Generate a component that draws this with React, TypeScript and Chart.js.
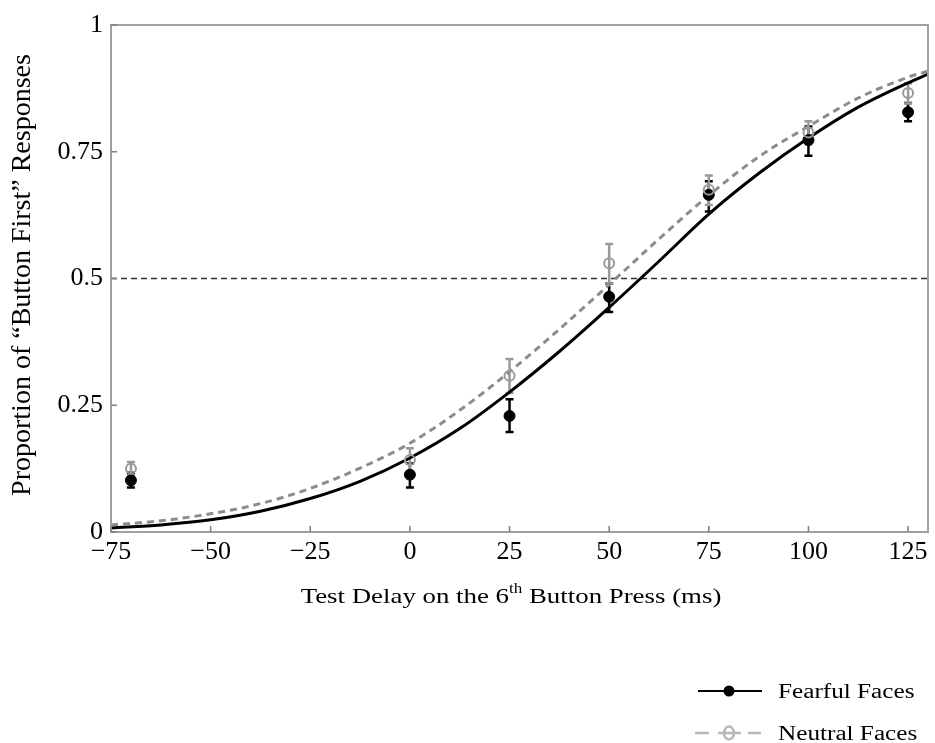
import React, { useEffect, useRef } from "react";
import { Chart, registerables } from "chart.js";

Chart.register(...registerables);

// ---- data ----
const xTickValues = [-75, -50, -25, 0, 25, 50, 75, 100, 125];
const xTickLabels = ["\u221275", "\u221250", "\u221225", "0", "25", "50", "75", "100", "125"];
const yTickValues = [0, 0.25, 0.5, 0.75, 1];
const yTickLabels = ["0", "0.25", "0.5", "0.75", "1"];

const curveX = [-75, -62.5, -50, -37.5, -25, -12.5, 0, 12.5, 25, 37.5, 50, 62.5, 75, 87.5, 100, 112.5, 125, 130];
const fearfulCurve = [0.008, 0.014, 0.024, 0.041, 0.066, 0.1, 0.146, 0.204, 0.276, 0.356, 0.443, 0.534, 0.627, 0.707, 0.777, 0.838, 0.886, 0.903];
const neutralCurve = [0.014, 0.022, 0.036, 0.056, 0.086, 0.126, 0.175, 0.24, 0.316, 0.4, 0.488, 0.578, 0.664, 0.74, 0.8, 0.856, 0.897, 0.909];

const pointX = [-70, 0, 25, 50, 75, 100, 125];
const fearfulMean = [0.102, 0.113, 0.229, 0.464, 0.665, 0.773, 0.828];
const fearfulLow = [0.088, 0.088, 0.197, 0.434, 0.632, 0.742, 0.81];
const fearfulHigh = [0.117, 0.135, 0.262, 0.49, 0.692, 0.8, 0.846];
const neutralMean = [0.125, 0.142, 0.308, 0.53, 0.675, 0.788, 0.866];
const neutralLow = [0.112, 0.12, 0.274, 0.49, 0.645, 0.765, 0.845];
const neutralHigh = [0.138, 0.165, 0.341, 0.568, 0.703, 0.81, 0.885];

const xMin = -75;
const xMax = 130;
const referenceLine = 0.5;
const seriesNames = ["Fearful Faces", "Neutral Faces"];
const xTitleParts = ["Test Delay on the 6", "th", " Button Press (ms)"];
const yTitle = "Proportion of \u201CButton First\u201D Responses";

const FONT = "'Liberation Serif', 'Times New Roman', serif";
const BLACK = "#000000";
const GRAY = "#8c8c8c";

function stretchedText(ctx: any, text: string, x: number, y: number, font: string, sx: number) {
  ctx.save();
  ctx.font = font;
  ctx.translate(x, y);
  ctx.scale(sx, 1);
  ctx.fillText(text, 0, 0);
  ctx.restore();
}

const decorPlugin = {
  id: "decor",
  beforeDatasetsDraw(chart: any) {
    const { ctx, chartArea: a, scales } = chart;
    const xs = scales.x;
    const ys = scales.y;
    ctx.save();
    ctx.strokeStyle = "#333333";
    ctx.lineWidth = 1.5;
    ctx.setLineDash([6, 4]);
    const yr = ys.getPixelForValue(referenceLine);
    ctx.beginPath();
    ctx.moveTo(a.left, yr);
    ctx.lineTo(a.right, yr);
    ctx.stroke();
    ctx.setLineDash([]);
    const drawBars = (lo: number[], hi: number[], color: string) => {
      ctx.strokeStyle = color;
      ctx.lineWidth = 2.5;
      for (let i = 0; i < pointX.length; i++) {
        const px = xs.getPixelForValue(pointX[i]);
        const p1 = ys.getPixelForValue(lo[i]);
        const p2 = ys.getPixelForValue(hi[i]);
        ctx.beginPath();
        ctx.moveTo(px, p1);
        ctx.lineTo(px, p2);
        ctx.moveTo(px - 4, p1);
        ctx.lineTo(px + 4, p1);
        ctx.moveTo(px - 4, p2);
        ctx.lineTo(px + 4, p2);
        ctx.stroke();
      }
    };
    drawBars(fearfulLow, fearfulHigh, BLACK);
    drawBars(neutralLow, neutralHigh, "#9a9a9a");
    ctx.restore();
  },
  afterDraw(chart: any) {
    const { ctx, chartArea: a, scales } = chart;
    const xs = scales.x;
    const ys = scales.y;
    ctx.save();
    // frame
    ctx.strokeStyle = "#a0a0a0";
    ctx.lineWidth = 2;
    ctx.strokeRect(a.left, a.top, a.right - a.left, a.bottom - a.top);
    // inward ticks
    ctx.strokeStyle = "#808080";
    ctx.lineWidth = 1.5;
    ctx.beginPath();
    xTickValues.forEach((v) => {
      const px = xs.getPixelForValue(v);
      ctx.moveTo(px, a.bottom);
      ctx.lineTo(px, a.bottom - 6);
    });
    yTickValues.forEach((v) => {
      const py = ys.getPixelForValue(v);
      ctx.moveTo(a.left, py);
      ctx.lineTo(a.left + 6, py);
    });
    ctx.stroke();

    // x title with superscript (horizontally stretched like the reference)
    ctx.fillStyle = BLACK;
    ctx.textBaseline = "alphabetic";
    ctx.textAlign = "left";
    const sx = 1.22;
    const mainFont = `22px ${FONT}`;
    const supFont = `14px ${FONT}`;
    ctx.font = mainFont;
    const w1 = ctx.measureText(xTitleParts[0]).width * sx;
    const w3 = ctx.measureText(xTitleParts[2]).width * sx;
    ctx.font = supFont;
    const w2 = ctx.measureText(xTitleParts[1]).width * sx;
    const total = w1 + w2 + w3;
    let tx = 511 - total / 2;
    const base = 603;
    stretchedText(ctx, xTitleParts[0], tx, base, mainFont, sx);
    tx += w1;
    stretchedText(ctx, xTitleParts[1], tx, base - 10, supFont, sx);
    tx += w2;
    stretchedText(ctx, xTitleParts[2], tx, base, mainFont, sx);

    // y title
    ctx.save();
    ctx.translate(23, 275);
    ctx.rotate(-Math.PI / 2);
    ctx.textAlign = "center";
    ctx.textBaseline = "middle";
    ctx.font = `28px ${FONT}`;
    ctx.fillText(yTitle, 0, 0);
    ctx.restore();

    // legend
    const legFont = `20px ${FONT}`;
    const lsx = 1.26;
    ctx.textAlign = "left";
    ctx.textBaseline = "alphabetic";
    let ly = 691;
    ctx.strokeStyle = BLACK;
    ctx.lineWidth = 2;
    ctx.beginPath();
    ctx.moveTo(698, ly);
    ctx.lineTo(762, ly);
    ctx.stroke();
    ctx.fillStyle = BLACK;
    ctx.beginPath();
    ctx.arc(729, ly, 5.5, 0, Math.PI * 2);
    ctx.fill();
    stretchedText(ctx, seriesNames[0], 778, 698, legFont, lsx);
    ly = 733;
    ctx.strokeStyle = "#b8b8b8";
    ctx.lineWidth = 2.5;
    ctx.beginPath();
    ctx.moveTo(695, ly);
    ctx.lineTo(709, ly);
    ctx.moveTo(718, ly);
    ctx.lineTo(741, ly);
    ctx.moveTo(748, ly);
    ctx.lineTo(761, ly);
    ctx.stroke();
    ctx.beginPath();
    ctx.ellipse(729, ly, 5, 6.5, 0, 0, Math.PI * 2);
    ctx.stroke();
    ctx.fillStyle = BLACK;
    stretchedText(ctx, seriesNames[1], 778, 740, legFont, lsx);
    ctx.restore();
  },
};

export default function App() {
  const ref = useRef<HTMLCanvasElement | null>(null);
  useEffect(() => {
    document.body.style.margin = "0";
    if (!ref.current) return;
    const toXY = (xs: number[], ys: number[]) => xs.map((x, i) => ({ x, y: ys[i] }));
    const chart = new Chart(ref.current, {
      type: "scatter",
      data: {
        datasets: [
          {
            label: seriesNames[0] + " fit",
            data: toXY(curveX, fearfulCurve),
            showLine: true,
            borderColor: BLACK,
            borderWidth: 3,
            pointRadius: 0,
            cubicInterpolationMode: "monotone",
            order: 4,
          } as any,
          {
            label: seriesNames[1] + " fit",
            data: toXY(curveX, neutralCurve),
            showLine: true,
            borderColor: GRAY,
            borderWidth: 3,
            borderDash: [7, 5],
            pointRadius: 0,
            cubicInterpolationMode: "monotone",
            order: 3,
          } as any,
          {
            label: seriesNames[0],
            data: toXY(pointX, fearfulMean),
            showLine: false,
            pointRadius: 5.5,
            pointBackgroundColor: BLACK,
            pointBorderColor: BLACK,
            pointBorderWidth: 1,
            order: 2,
          },
          {
            label: seriesNames[1],
            data: toXY(pointX, neutralMean),
            showLine: false,
            pointRadius: 5,
            pointBackgroundColor: "rgba(0,0,0,0)",
            pointBorderColor: "#9a9a9a",
            pointBorderWidth: 2,
            order: 1,
          },
        ],
      },
      options: {
        responsive: false,
        animation: false,
        layout: { padding: { top: 25, right: 0, left: 0, bottom: 0 } },
        plugins: {
          legend: { display: false },
          tooltip: { enabled: false },
        },
        scales: {
          x: {
            type: "linear",
            min: xMin,
            max: xMax,
            grid: { display: false, drawTicks: false, tickLength: 0 },
            border: { display: false },
            afterBuildTicks: (s: any) => {
              s.ticks = xTickValues.map((v) => ({ value: v }));
            },
            afterFit: (s: any) => {
              s.height = 211;
              s.paddingRight = 0;
              s.paddingLeft = 0;
            },
            ticks: {
              padding: 5,
              color: BLACK,
              font: { family: FONT, size: 26 },
              maxRotation: 0,
              callback: (v: any) => {
                const i = xTickValues.indexOf(Number(v));
                return i >= 0 ? xTickLabels[i] : "";
              },
            },
          },
          y: {
            type: "linear",
            min: 0,
            max: 1,
            grid: { display: false, drawTicks: false, tickLength: 0 },
            border: { display: false },
            afterBuildTicks: (s: any) => {
              s.ticks = yTickValues.map((v) => ({ value: v }));
            },
            afterFit: (s: any) => {
              s.width = 111;
            },
            ticks: {
              padding: 8,
              color: BLACK,
              font: { family: FONT, size: 26 },
              callback: (v: any) => {
                const i = yTickValues.indexOf(Number(v));
                return i >= 0 ? yTickLabels[i] : "";
              },
            },
          },
        },
      },
      plugins: [decorPlugin],
    });
    return () => chart.destroy();
  }, []);
  return (
    <div style={{ width: 935, height: 743, background: "#fff" }}>
      <canvas ref={ref} width={935} height={743} style={{ display: "block" }} />
    </div>
  );
}
